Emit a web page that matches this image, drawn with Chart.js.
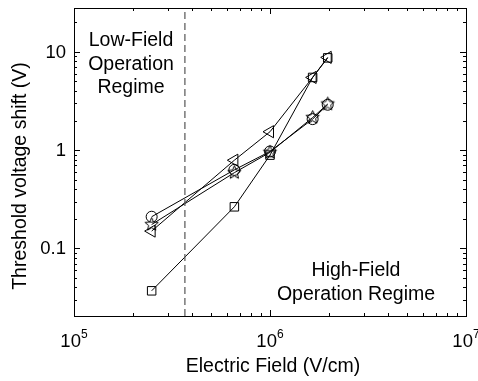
<!DOCTYPE html>
<html>
<head>
<meta charset="utf-8">
<script src="https://cdn.jsdelivr.net/npm/chart.js@4/dist/chart.umd.min.js"></script>
<style>
  body { margin: 0; background: #fff; }
  canvas { display: block; }
</style>
</head>
<body>
<canvas id="chart" width="478" height="381"></canvas>
<script>
// electric field (V/cm) for each stress point
const fields = [2.49e5, 6.58e5, 1.0e6, 1.65e6, 1.97e6];
// threshold voltage shift (V) per device
const circleVals = [0.21, 0.63, 0.97, 2.07, 2.9];
const starVals = [0.175, 0.59, 0.95, 2.15, 2.95];
const triangleVals = [0.15, 0.79, 1.54, 5.5, 8.8];
const squareVals = [0.037, 0.265, 0.89, 5.5, 8.7];
// boundary between low and high field regimes
const boundaryField = 3.68e5;
const xDecades = [5, 6, 7];
const yTickLabels = [0.1, 1, 10];
const lowFieldText = ["Low-Field", "Operation", "Regime"];
const highFieldText = ["High-Field", "Operation Regime"];

const xMin = 1e5, xMax = 1e7, yMin = 0.0205, yMax = 28;

function makeStar(r) {
  const c = document.createElement("canvas");
  const s = Math.ceil(r * 2 + 3);
  c.width = s;
  c.height = s;
  const g = c.getContext("2d");
  const cx = s / 2, cy = s / 2;
  g.beginPath();
  for (let i = 0; i < 10; i++) {
    const rad = i % 2 === 0 ? r : r * 0.45;
    const a = -Math.PI / 2 + (i * Math.PI) / 5;
    const px = cx + rad * Math.cos(a);
    const py = cy + rad * Math.sin(a);
    if (i === 0) g.moveTo(px, py);
    else g.lineTo(px, py);
  }
  g.closePath();
  g.strokeStyle = "#000";
  g.lineWidth = 1;
  g.stroke();
  return c;
}

const toPoints = (vals) => vals.map((v, i) => ({ x: fields[i], y: v }));

const lineBase = {
  borderColor: "#000",
  borderWidth: 1,
  backgroundColor: "rgba(0,0,0,0)",
  pointBorderColor: "#000",
  pointBackgroundColor: "rgba(0,0,0,0)",
  pointBorderWidth: 1,
  tension: 0,
};

const FONT = "'Liberation Sans', Arial, sans-serif";

const axesPlugin = {
  id: "axesPlugin",
  afterDraw(chart) {
    const ctx = chart.ctx;
    const a = chart.chartArea;
    const xs = chart.scales.x;
    const ys = chart.scales.y;
    ctx.save();
    ctx.strokeStyle = "#000";
    ctx.lineWidth = 1;
    ctx.strokeRect(Math.round(a.left) + 0.5, Math.round(a.top) + 0.5,
      Math.round(a.right - a.left), Math.round(a.bottom - a.top));

    // ticks on all sides, pointing inward
    ctx.beginPath();
    for (let d = 5; d <= 6; d++) {
      for (let m = 1; m <= 9; m++) {
        const v = m * Math.pow(10, d);
        if (v <= xMin) continue;
        const px = Math.round(xs.getPixelForValue(v)) + 0.5;
        const len = m === 1 ? 6 : 3;
        ctx.moveTo(px, a.bottom);
        ctx.lineTo(px, a.bottom - len);
        ctx.moveTo(px, a.top);
        ctx.lineTo(px, a.top + len);
      }
    }
    for (let d = -2; d <= 1; d++) {
      for (let m = 1; m <= 9; m++) {
        const v = m * Math.pow(10, d);
        if (v < yMin || v > yMax) continue;
        const py = Math.round(ys.getPixelForValue(v)) + 0.5;
        const len = m === 1 ? 6 : 3;
        ctx.moveTo(a.left, py);
        ctx.lineTo(a.left + len, py);
        ctx.moveTo(a.right, py);
        ctx.lineTo(a.right - len, py);
      }
    }
    ctx.stroke();

    ctx.fillStyle = "#000";
    // x tick labels 10^n
    xDecades.forEach((d) => {
      const px = xs.getPixelForValue(Math.pow(10, d));
      ctx.font = "18.5px " + FONT;
      const wBase = ctx.measureText("10").width;
      ctx.font = "12px " + FONT;
      const wSup = ctx.measureText(String(d)).width;
      const start = px - (wBase + wSup) / 2;
      ctx.textAlign = "left";
      ctx.textBaseline = "alphabetic";
      ctx.font = "18.5px " + FONT;
      ctx.fillText("10", start, 347);
      ctx.font = "12px " + FONT;
      ctx.fillText(String(d), start + wBase, 338);
    });

    // y tick labels
    ctx.font = "18.5px " + FONT;
    ctx.textAlign = "right";
    ctx.textBaseline = "middle";
    yTickLabels.forEach((v) => {
      ctx.fillText(String(v), a.left - 8, ys.getPixelForValue(v) + 1);
    });

    // axis titles
    ctx.font = "19.5px " + FONT;
    ctx.textAlign = "center";
    ctx.textBaseline = "alphabetic";
    ctx.fillText("Electric Field (V/cm)", 273, 372);
    ctx.save();
    ctx.translate(26, 176);
    ctx.rotate(-Math.PI / 2);
    ctx.fillText("Threshold voltage shift (V)", 0, 0);
    ctx.restore();

    // regime annotations
    ctx.font = "19.5px " + FONT;
    lowFieldText.forEach((t, i) => ctx.fillText(t, 131, 46 + i * 23.5));
    highFieldText.forEach((t, i) => ctx.fillText(t, 356, 276 + i * 23.5));
    ctx.restore();
  },
};

new Chart(document.getElementById("chart"), {
  type: "line",
  data: {
    datasets: [
      {
        data: [{ x: boundaryField, y: yMin }, { x: boundaryField, y: yMax }],
        borderColor: "#555",
        borderWidth: 1.2,
        borderDash: [7, 4],
        pointRadius: 0,
        backgroundColor: "rgba(0,0,0,0)",
      },
      { ...lineBase, data: toPoints(squareVals), pointStyle: "rect", pointRadius: 6 },
      { ...lineBase, data: toPoints(triangleVals), pointStyle: "triangle", pointRotation: -90, pointRadius: 7 },
      { ...lineBase, data: toPoints(circleVals), pointStyle: "circle", pointRadius: 5.5 },
      { ...lineBase, data: toPoints(starVals), pointStyle: makeStar(7) },
    ],
  },
  options: {
    responsive: false,
    animation: false,
    layout: { padding: { left: 74, right: 12, top: 8, bottom: 65 } },
    plugins: { legend: { display: false }, tooltip: { enabled: false } },
    scales: {
      x: { type: "logarithmic", min: xMin, max: xMax, display: false },
      y: { type: "logarithmic", min: yMin, max: yMax, display: false },
    },
  },
  plugins: [axesPlugin],
});
</script>
</body>
</html>
